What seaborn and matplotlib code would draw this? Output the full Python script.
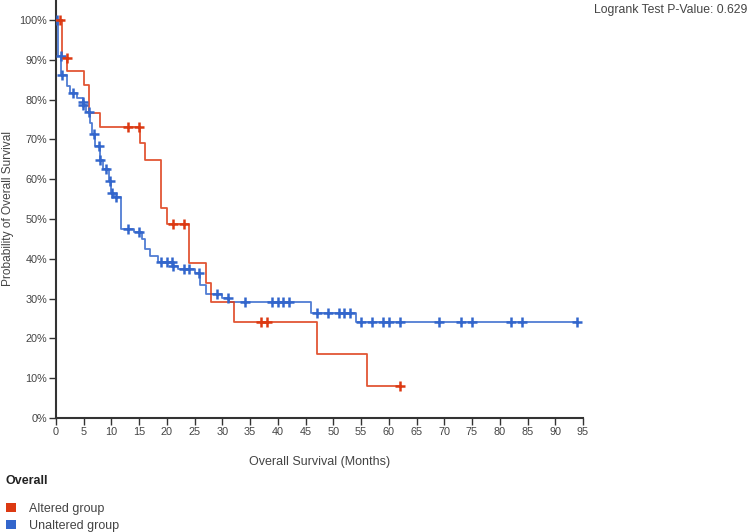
import numpy as np
import pandas as pd
import matplotlib
matplotlib.use("Agg")
import matplotlib.pyplot as plt
import seaborn as sns
from matplotlib.patches import Patch

# step events: time (months) and survival (%) just after the drop
altered_event_t = [1, 2, 5, 6, 8, 15.2, 16, 19, 20, 24, 27, 28, 32, 47, 56]
altered_event_s = [90.5, 87.2, 83.7, 76.7, 73.1, 69.1, 64.9, 52.7, 48.7, 38.9, 34.0, 29.1, 24.2, 16.1, 8.1]
altered_censor_t = [0.7, 1.9, 13, 15, 21, 23, 37, 38, 62]

unaltered_event_t = [0.3, 0.95, 2.0, 2.6, 3.8, 4.8, 4.9, 5.4, 6.1, 6.4, 7.1, 7.9, 8.5, 9.5, 9.95,
                     10.5, 11.7, 14, 15.5, 16, 17, 18.3, 21, 22, 25, 26, 27, 30, 31.2, 46, 54]
unaltered_event_s = [91.0, 86.2, 83.3, 81.7, 80.3, 79.3, 78.6, 76.8, 74.0, 71.4, 68.3, 64.8, 62.6, 59.5, 56.5,
                     55.6, 47.5, 46.6, 44.9, 42.4, 40.7, 39.1, 38.1, 37.4, 36.4, 33.4, 31.2, 30.2, 29.1, 26.4, 24.1]
unaltered_censor_t = [0.1, 0.85, 1.0, 3.1, 4.85, 4.95, 5.9, 6.9, 7.8, 8.0, 9.0, 9.8, 10.05, 10.9, 12.9, 15,
                      19, 20, 20.9, 21.1, 23, 24, 25.8, 29, 31, 34, 39, 40, 41, 42, 47, 49, 51, 52, 53,
                      55, 57, 59, 60, 62, 69, 73, 75, 82, 84, 94]

groups = ["Altered group", "Unaltered group"]
colors = {"Altered group": "#dc3912", "Unaltered group": "#3366cc"}
p_value = 0.629


def curve(event_t, event_s, censor_t):
    t = np.array([0] + event_t + [max(censor_t)], dtype=float)
    s = np.array([100] + event_s + [event_s[-1]], dtype=float)
    return t, s


def level_at(t, s, x):
    idx = np.searchsorted(t, x, side="right") - 1
    return s[idx]


lines = []
marks = []
for name, ev_t, ev_s, c_t in [
    ("Altered group", altered_event_t, altered_event_s, altered_censor_t),
    ("Unaltered group", unaltered_event_t, unaltered_event_s, unaltered_censor_t),
]:
    t, s = curve(ev_t, ev_s, c_t)
    lines.append(pd.DataFrame({"time": t, "surv": s, "group": name}))
    ct = np.array(c_t, dtype=float)
    marks.append(pd.DataFrame({"time": ct, "surv": level_at(t, s, ct), "group": name}))
lines = pd.concat(lines, ignore_index=True)
marks = pd.concat(marks, ignore_index=True)

sns.set_style("white")
plt.rcParams["font.family"] = ["Liberation Sans", "DejaVu Sans"]

fig = plt.figure(figsize=(7.5, 5.32), dpi=100)
ax = fig.add_axes([0.0747, 0.2143, 0.7026, 0.7857])

# unaltered first so the red curve sits on top
order = ["Unaltered group", "Altered group"]
for g in order:
    sns.lineplot(data=lines[lines.group == g], x="time", y="surv", color=colors[g],
                 drawstyle="steps-post", estimator=None, sort=False, linewidth=1.3,
                 alpha=0.85, legend=False, ax=ax)
for g in order:
    sns.scatterplot(data=marks[marks.group == g], x="time", y="surv", color=colors[g],
                    marker="+", s=45, linewidth=1.8, legend=False, ax=ax, zorder=5)

ax.set_xlim(0, 95)
ax.set_ylim(0, 105)
ax.set_xticks(np.arange(0, 96, 5))
ax.set_yticks(np.arange(0, 101, 10))
ax.set_yticklabels([f"{v}%" for v in range(0, 101, 10)])
ax.tick_params(axis="both", direction="out", length=5, width=1, colors="#333333",
               labelsize=7.8, labelcolor="#444444", left=True, bottom=True, pad=1.5)
for side in ["top", "right"]:
    ax.spines[side].set_visible(False)
for side in ["left", "bottom"]:
    ax.spines[side].set_color("#333333")
    ax.spines[side].set_linewidth(1.5)

ax.set_xlabel("Overall Survival (Months)", fontsize=9, color="#444444", labelpad=14)
ax.set_ylabel("Probability of Overall Survival", fontsize=8.6, color="#444444")
ax.yaxis.label.set_va("center")
ax.yaxis.set_label_coords(-0.091, 0.5)

fig.text(0.997, 0.982, f"Logrank Test P-Value: {p_value}", ha="right", va="center",
         fontsize=8.8, color="#444444")
fig.text(0.007, 1 - 481 / 532, "Overall", ha="left", va="center", fontsize=9,
         fontweight="bold", color="#222222")
handles = [Patch(facecolor=colors[g], edgecolor="none") for g in groups]
fig.legend(handles, groups, loc="upper left", bbox_to_anchor=(-0.004, 1 - 494 / 532),
           frameon=False, fontsize=9, handlelength=0.8, handleheight=0.8,
           handletextpad=1.05, labelspacing=0.4, borderpad=0.2, labelcolor="#444444")

fig.savefig("out.png", dpi=100)
